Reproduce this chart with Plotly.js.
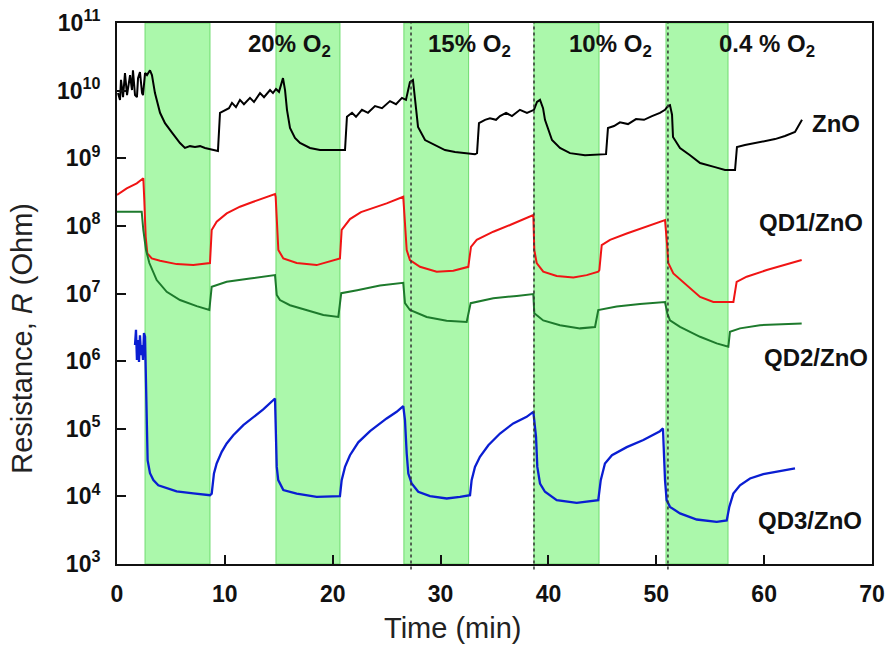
<!DOCTYPE html>
<html>
<head>
<meta charset="utf-8">
<script src="https://cdn.plot.ly/plotly-3.0.1.min.js"></script>
<style>html,body{margin:0;padding:0;background:#fff;}#chart{width:890px;height:648px;}</style>
</head>
<body>
<div id="chart"></div>
<script>
// ---- data ----
const bandStart = [2.6, 14.74, 26.6, 38.66, 50.9];
const bandEnd   = [8.62, 20.67, 32.6, 44.69, 56.65];
const switchTimes = [27.26, 38.66, 51.08];
const o2Labels = ['20% O<sub>2</sub>', '15% O<sub>2</sub>', '10% O<sub>2</sub>', '0.4 % O<sub>2</sub>'];
const seriesNames = ['ZnO', 'QD1/ZnO', 'QD2/ZnO', 'QD3/ZnO'];
const xTitle = 'Time (min)';
const yTitle = 'Resistance, <i>R</i> (Ohm)';
const yTickVals = [1e3, 1e4, 1e5, 1e6, 1e7, 1e8, 1e9, 1e10, 1e11];
const yTickText = ['10<sup>3</sup>','10<sup>4</sup>','10<sup>5</sup>','10<sup>6</sup>','10<sup>7</sup>','10<sup>8</sup>','10<sup>9</sup>','10<sup>10</sup>','10<sup>11</sup>'];
const xTickVals = [0, 10, 20, 30, 40, 50, 60, 70];

const tZnO = [0.09,0.28,0.37,0.56,0.74,0.93,1.21,1.39,1.48,1.67,1.85,1.95,2.13,2.32,2.41,2.60,2.78,3.06,3.24,3.52,3.99,4.45,5.10,5.84,6.30,6.77,7.23,7.70,8.16,8.62,9.36,9.55,10.01,10.38,10.66,11.03,11.40,11.77,12.33,12.70,13.26,13.63,14.19,14.46,14.74,15.02,15.39,15.58,15.76,16.04,16.50,16.97,17.89,18.82,20.21,21.14,21.32,21.79,22.16,22.71,23.27,23.92,24.57,25.31,25.87,26.42,26.79,27.16,27.44,27.63,27.91,28.56,29.48,30.41,31.34,33.19,33.38,33.56,34.12,34.58,35.14,35.51,36.07,36.62,37.36,38.01,38.66,38.94,39.22,39.50,39.68,40.33,41.07,42.00,43.39,44.78,45.34,45.52,46.08,46.63,47.38,48.12,48.86,49.60,50.34,50.81,51.08,51.27,51.46,51.55,52.20,53.13,54.06,55.44,56.37,57.30,57.48,58.22,59.15,60.08,61.01,61.93,62.86,63.51];
const rZnO = [9.2e9,7.3e9,1.44e10,8.0e9,1.82e10,8.6e9,1.70e10,1.02e10,2.0e10,8.6e9,8.0e9,1.53e10,1.88e10,9.2e9,8.6e9,1.82e10,1.70e10,2.0e10,1.70e10,9.2e9,4.7e9,3.3e9,2.4e9,1.68e9,1.42e9,1.51e9,1.47e9,1.51e9,1.42e9,1.37e9,1.28e9,4.7e9,5.2e9,5.5e9,6.6e9,5.7e9,7.3e9,6.3e9,7.8e9,6.8e9,9.2e9,8.0e9,1.02e10,9.2e9,1.06e10,9.6e9,1.53e10,1.02e10,5.2e9,2.8e9,2.0e9,1.68e9,1.42e9,1.32e9,1.32e9,1.32e9,4.1e9,4.7e9,4.1e9,5.2e9,4.7e9,5.9e9,5.5e9,7.0e9,6.3e9,7.8e9,7.3e9,1.34e10,1.44e10,7.3e9,2.9e9,1.86e9,1.57e9,1.32e9,1.24e9,1.15e9,1.19e9,3.3e9,3.7e9,3.9e9,3.7e9,4.2e9,4.7e9,4.2e9,5.2e9,4.7e9,5.2e9,6.8e9,7.3e9,5.5e9,3.7e9,1.86e9,1.42e9,1.19e9,1.11e9,1.15e9,1.15e9,2.8e9,3.0e9,3.4e9,3.2e9,3.8e9,3.7e9,4.2e9,4.7e9,5.2e9,5.9e9,6.1e9,4.4e9,2.06e9,1.42e9,1.11e9,8.5e8,7.4e8,6.7e8,6.7e8,1.47e9,1.57e9,1.68e9,1.80e9,1.92e9,2.13e9,2.44e9,3.7e9];

const tQD1 = [0,0.90,1.83,2.44,2.53,2.66,2.81,3.22,3.99,5.53,7.07,8.62,
  8.78,9.24,10.17,11.40,12.64,13.88,14.65,
  14.71,14.81,14.96,15.42,16.66,18.51,20.67,
  20.83,21.60,22.62,23.76,25.0,26.54,
  26.70,26.86,27.16,28.09,29.64,31.18,32.57,
  32.82,33.35,34.89,36.44,38.60,
  38.69,38.91,39.52,40.77,42.31,43.55,44.62,
  44.72,44.94,45.71,47.26,48.80,50.81,
  51.02,51.11,51.58,52.82,54.06,55.29,57.15,
  57.45,58.38,60.24,62.09,63.48];
const rQD1 = [2.86e8,3.59e8,4.25e8,5.05e8,2.41e8,6.9e7,3.92e7,3.3e7,3.05e7,2.72e7,2.63e7,2.82e7,
  8.7e7,1.15e8,1.53e8,1.92e8,2.27e8,2.69e8,2.95e8,
  2.69e8,1.09e8,4.4e7,3.3e7,2.82e7,2.63e7,3.3e7,
  8.7e7,1.26e8,1.60e8,1.83e8,2.15e8,2.69e8,
  9.7e7,4.4e7,3.12e7,2.48e7,2.1e7,2.17e7,2.48e7,
  4.9e7,6.2e7,8.2e7,1.03e8,1.45e8,
  4.4e7,2.82e7,2.1e7,1.81e7,1.73e7,1.87e7,2.1e7,
  2.22e7,5.2e7,6.2e7,7.7e7,9.5e7,1.22e8,
  4.9e7,2.82e7,1.98e7,1.33e7,8.9e6,7.5e6,7.5e6,
  1.49e7,1.77e7,2.22e7,2.72e7,3.12e7];

const tQD2 = [0,2.29,2.44,2.69,3.0,3.68,4.61,5.84,7.39,8.56,
  8.78,10.17,12.33,14.65,
  14.81,15.11,16.04,17.89,19.13,20.52,
  20.79,22.27,24.38,26.54,
  26.70,27.16,28.71,30.56,32.42,
  32.79,34.89,37.06,38.60,
  38.69,39.52,41.07,42.93,44.32,
  44.62,46.33,48.49,50.81,
  51.02,51.27,52.20,54.06,55.60,56.68,
  56.83,57.76,59.61,63.48];
const rQD2 = [1.62e8,1.62e8,8.7e7,4.4e7,2.82e7,1.58e7,1.06e7,8.0e6,6.5e6,5.7e6,
  1.26e7,1.49e7,1.67e7,1.87e7,
  9.5e6,8.0e6,6.7e6,5.4e6,4.8e6,4.5e6,
  1.01e7,1.12e7,1.31e7,1.44e7,
  7.2e6,5.7e6,4.5e6,3.95e6,3.8e6,
  7.2e6,8.5e6,9.2e6,9.8e6,
  5.1e6,4.0e6,3.4e6,3.05e6,3.2e6,
  5.7e6,6.4e6,7.0e6,7.5e6,
  5.1e6,4.0e6,3.2e6,2.29e6,1.83e6,1.63e6,
  2.71e6,3.05e6,3.4e6,3.6e6];

const tQD3 = [1.67,1.76,1.85,1.95,2.04,2.13,2.23,2.32,2.41,2.50,2.60,
  2.69,2.75,2.84,3.06,3.37,3.83,4.61,5.53,7.07,8.62,
  8.78,8.87,8.99,9.24,9.71,10.17,10.78,11.71,12.64,13.56,14.65,
  14.74,14.81,14.95,15.42,16.66,18.51,20.67,
  20.83,21.14,21.60,22.37,23.46,25.0,25.93,26.54,
  26.70,26.86,27.01,27.32,27.93,29.02,30.57,31.80,32.73,
  32.88,33.19,33.65,34.43,35.51,36.74,37.98,38.60,
  38.85,38.97,39.22,39.68,40.77,42.62,44.62,
  44.85,45.24,45.89,47.26,48.80,50.34,50.62,
  50.71,50.81,50.96,51.27,52.20,53.75,55.60,56.53,
  56.77,57.14,57.76,58.69,59.92,61.16,62.86];
const rQD3 = [1.73e6,2.9e6,1.04e6,2.05e6,9.7e5,2.4e6,1.23e6,1.73e6,1.04e6,2.6e6,2.3e6,
  4.1e5,7.5e4,3.4e4,2.2e4,1.74e4,1.46e4,1.32e4,1.19e4,1.11e4,1.04e4,
  1.10e4,1.55e4,2.18e4,3.07e4,4.55e4,6.07e4,8.0e4,1.13e5,1.50e5,1.93e5,2.8e5,
  7.6e4,2.73e4,1.74e4,1.24e4,1.10e4,9.8e3,1.01e4,
  1.74e4,2.73e4,4.06e4,6.3e4,9.2e4,1.42e5,1.78e5,2.16e5,
  1.34e5,4.3e4,2.18e4,1.55e4,1.17e4,1.01e4,9.3e3,9.8e3,1.04e4,
  1.74e4,2.73e4,3.84e4,5.7e4,8.5e4,1.2e5,1.50e5,1.78e5,
  7.6e4,2.73e4,1.55e4,1.17e4,8.8e3,8.0e3,8.8e3,
  1.74e4,3.07e4,4.06e4,5.35e4,6.8e4,9.2e4,1.01e5,
  4.3e4,1.74e4,8.8e3,7.0e3,5.6e3,4.55e3,4.2e3,4.4e3,
  7.0e3,1.10e4,1.46e4,1.84e4,2.13e4,2.3e4,2.59e4];

// ---- chart ----
const colors = ['#000000', '#f01414', '#1d7a2c', '#0a1ed2'];
const xs = [tZnO, tQD1, tQD2, tQD3];
const ys = [rZnO, rQD1, rQD2, rQD3];
const traces = xs.map((x, i) => ({
  x: x, y: ys[i], type: 'scatter', mode: 'lines', name: seriesNames[i],
  line: {color: colors[i], width: i === 3 ? 2.3 : 2, shape: 'linear'}, hoverinfo: 'skip'
}));

const shapes = [];
bandStart.forEach((s, i) => {
  shapes.push({type: 'rect', xref: 'x', yref: 'paper', x0: s, x1: bandEnd[i], y0: 0, y1: 1,
    fillcolor: '#abf8ab', line: {color: '#6fdc6f', width: 1}, layer: 'below'});
});
switchTimes.forEach(t => {
  shapes.push({type: 'line', xref: 'x', yref: 'paper', x0: t, x1: t, y0: -0.01, y1: 1,
    line: {color: '#333', width: 1.5, dash: 'dot'}, layer: 'above'});
});

const FAM = 'Arial, Liberation Sans, sans-serif';
const o2X = [0.228, 0.4675, 0.654, 0.861];
const labelPos = [[0.952, 0.815], [0.919, 0.632], [0.926, 0.381], [0.918, 0.081]];
const annFont = {family: FAM, size: 24, color: '#111', weight: 'bold'};
const annotations = [];
o2Labels.forEach((txt, i) => annotations.push({xref: 'paper', yref: 'paper', x: o2X[i], y: 0.959,
  text: txt, showarrow: false, xanchor: 'center', yanchor: 'middle', font: annFont}));
seriesNames.forEach((txt, i) => annotations.push({xref: 'paper', yref: 'paper', x: labelPos[i][0], y: labelPos[i][1],
  text: txt, showarrow: false, xanchor: 'center', yanchor: 'middle', font: annFont}));
// axis titles
annotations.push({xref: 'paper', yref: 'paper', x: 0.444, y: -0.118, text: xTitle, showarrow: false,
  xanchor: 'center', yanchor: 'middle', font: {family: FAM, size: 29, color: '#222'}});
annotations.push({xref: 'paper', yref: 'paper', x: -0.126, y: 0.418, text: yTitle, showarrow: false,
  textangle: -90, xanchor: 'center', yanchor: 'middle', font: {family: FAM, size: 29, color: '#222'}});

const tickFont = {family: FAM, size: 23, color: '#111', weight: 'bold'};
const layout = {
  width: 890, height: 648,
  margin: {l: 117, r: 18, t: 23, b: 84},
  paper_bgcolor: '#fff', plot_bgcolor: '#fff',
  showlegend: false,
  xaxis: {
    range: [0, 70], tickvals: xTickVals, ticks: 'inside', ticklen: 9, tickwidth: 2, tickcolor: '#111',
    showline: true, linecolor: '#111', linewidth: 2, mirror: true, showgrid: false, zeroline: false,
    tickfont: tickFont, ticklabelstandoff: 8
  },
  yaxis: {
    type: 'log', range: [3, 11], tickvals: yTickVals, ticktext: yTickText,
    ticks: 'inside', ticklen: 9, tickwidth: 2, tickcolor: '#111',
    showline: true, linecolor: '#111', linewidth: 2, mirror: true, showgrid: false, zeroline: false,
    tickfont: tickFont, ticklabelstandoff: 10
  },
  shapes: shapes,
  annotations: annotations
};
Plotly.newPlot('chart', traces, layout, {staticPlot: true, displayModeBar: false});
</script>
</body>
</html>
